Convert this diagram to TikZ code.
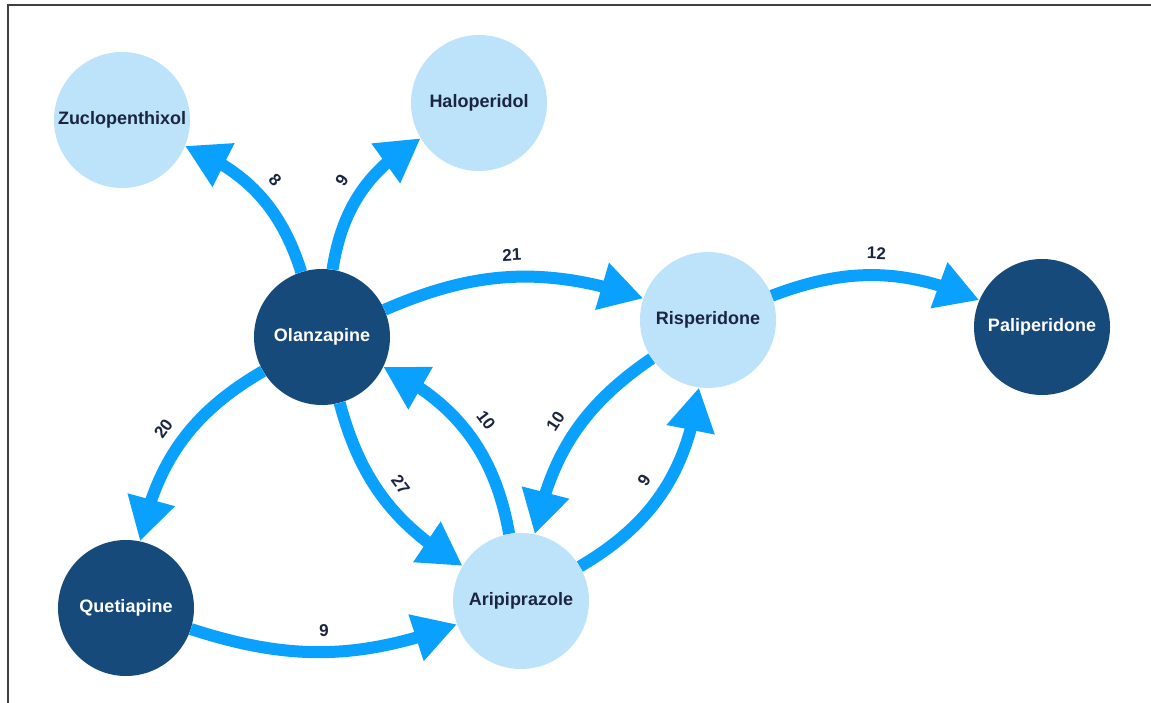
\documentclass[tikz,border=0pt]{standalone}
\usepackage{fontspec}
\setmainfont{Liberation Sans}
\usetikzlibrary{arrows.meta, bending, positioning}
\definecolor{drugdark}{HTML}{164A7B}
\definecolor{druglight}{HTML}{BDE3FB}
\definecolor{edgeblue}{HTML}{0AA0FE}
\definecolor{labelnavy}{HTML}{1B2440}

\begin{document}
\begin{tikzpicture}[
    x = 1pt, y = 1pt,
    every node/.style = {font=\bfseries\fontsize{18}{21}\selectfont},
    drug/.style = {circle, minimum size=136pt, inner sep=0pt,
                   fill=druglight, text=labelnavy},
    hub/.style = {drug, fill=drugdark, text=white},
    arrow/.style = {-{Triangle[length=43pt, width=46pt, flex]},
                    line width=12pt, color=edgeblue},
    wt/.style = {midway, sloped, above=9pt, inner sep=1pt, text=labelnavy,
                 font=\bfseries\fontsize{17}{20}\selectfont}
]
  \useasboundingbox (0,0) rectangle (1151,703);
  \draw[line width=2pt, color=black!75] (8,0) -- (8,698) -- (1151,698);

  \node[drug] (zuclo)   at (122,583)  {Zuclopenthixol};
  \node[drug] (halo)    at (479,600)  {Haloperidol};
  \node[hub]  (olanz)   at (322,366)  {Olanzapine};
  \node[drug] (risp)    at (708,383)  {Risperidone};
  \node[hub]  (palip)   at (1042,376) {Paliperidone};
  \node[hub]  (quet)    at (126,95)   {Quetiapine};
  \node[drug] (arip)    at (521,102)  {Aripiprazole};

  \draw[arrow] (olanz) to[bend right=25] node[wt]{8} (zuclo);
  \draw[arrow] (olanz) to[bend left=25] node[wt]{9} (halo);
  \draw[arrow] (olanz) to[bend left=21] node[wt]{21} (risp);
  \draw[arrow] (risp) to[bend left=22] node[wt]{12} (palip);
  \draw[arrow] (olanz) to[bend right=24] node[wt]{20} (quet);
  \draw[arrow] (olanz) to[bend right=22] node[wt]{27} (arip);
  \draw[arrow] (arip) to[bend right=27] node[wt]{10} (olanz);
  \draw[arrow] (risp) to[bend right=22] node[wt]{10} (arip);
  \draw[arrow] (arip) to[bend right=26] node[wt]{9} (risp);
  \draw[arrow] (quet) to[bend right=19] node[wt]{9} (arip);
\end{tikzpicture}
\end{document}
